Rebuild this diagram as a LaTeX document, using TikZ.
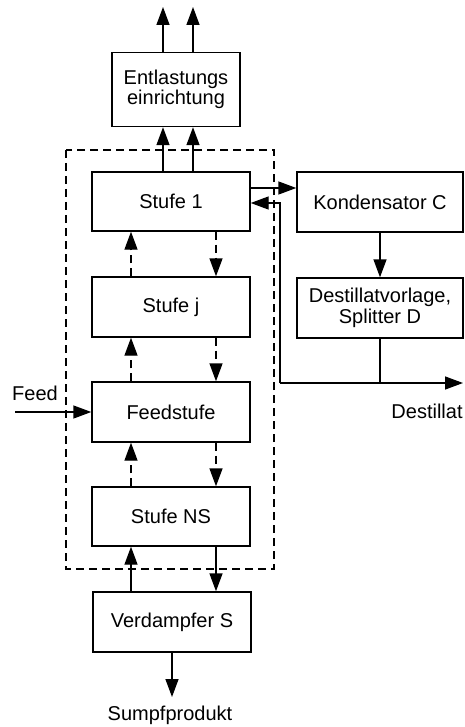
\documentclass[tikz,border=0pt]{standalone}
\usepackage{fontspec}
\setmainfont{Liberation Sans}
\usetikzlibrary{arrows.meta}
\begin{document}
\begin{tikzpicture}[x=1pt,y=-1pt,
  every node/.style={font=\fontsize{20}{23.5}\selectfont},
  blk/.style={draw,line width=1.4pt,minimum width=158pt,minimum height=59pt,inner sep=0pt,align=center},
  arr/.style={line width=1.4pt,-{Triangle[length=18pt,width=13pt]}},
  dsh/.style={dash pattern=on 8pt off 5pt},
  lbl/.style={inner sep=0pt}]
\useasboundingbox (0,0) rectangle (465,727);
% boxes
\node[blk,minimum width=128pt,minimum height=74pt] (ent) at (176,89.5) {Entlastungs\\[-3pt]einrichtung};
\node[blk] (s1) at (171,201.5) {Stufe 1};
\node[blk,minimum height=60pt] (sj) at (171,307) {Stufe j};
\node[blk,minimum height=60pt] (fs) at (171,412) {Feedstufe};
\node[blk] (ns) at (171,516.5) {Stufe NS};
\node[blk,minimum height=60pt] (vd) at (172,622) {Verdampfer S};
\node[blk,minimum width=166pt,minimum height=60pt] (kd) at (380,202) {Kondensator C};
\node[blk,minimum width=166pt,minimum height=60pt] (dv) at (380,308) {Destillatvorlage,\\[-3pt]Splitter D};
% dashed envelope
\draw[line width=1.4pt,dsh] (66,150) rectangle (274,569);
% helper coordinates
\coordinate (xa) at (163,0);
\coordinate (xb) at (193,0);
\coordinate (xl) at (131,0);
\coordinate (xr) at (216,0);
\coordinate (top) at (0,7);
\coordinate (yf) at (0,188);
\coordinate (yr) at (0,203);
\coordinate (rl) at (280,383);
\coordinate (dout) at (463,383);
\coordinate (fin) at (15,412);
\coordinate (sp) at (0,697);
% top outlets
\draw[arr] (xa |- ent.north) -- (xa |- top);
\draw[arr] (xb |- ent.north) -- (xb |- top);
\draw[arr] (xa |- s1.north) -- (xa |- ent.south);
\draw[arr] (xb |- s1.north) -- (xb |- ent.south);
% dashed stage flows
\draw[arr,dsh] (xl |- sj.north) -- (xl |- s1.south);
\draw[arr,dsh] (xr |- s1.south) -- (xr |- sj.north);
\draw[arr,dsh] (xl |- fs.north) -- (xl |- sj.south);
\draw[arr,dsh] (xr |- sj.south) -- (xr |- fs.north);
\draw[arr,dsh] (xl |- ns.north) -- (xl |- fs.south);
\draw[arr,dsh] (xr |- fs.south) -- (xr |- ns.north);
% reboiler
\draw[arr] (xl |- vd.north) -- (xl |- ns.south);
\draw[arr] (xr |- ns.south) -- (xr |- vd.north);
\draw[arr] (vd.south) -- (vd.south |- sp);
% condenser loop
\draw[arr] (s1.east |- yf) -- (kd.west |- yf);
\draw[arr] (kd.south) -- (dv.north);
\draw[line width=1.4pt] (dv.south) -- (dv.south |- rl);
\draw[arr] (rl) -- (dout);
\draw[arr] (rl) |- (s1.east |- yr);
% feed
\draw[arr] (fin) -- (fs.west);
% labels
\node[lbl,anchor=west] (lf) at (12,393) {Feed};
\node[lbl] (ld) at (427,411) {Destillat};
\node[lbl] (lsp) at (170,715) {Sumpfprodukt};
\end{tikzpicture}
\end{document}
